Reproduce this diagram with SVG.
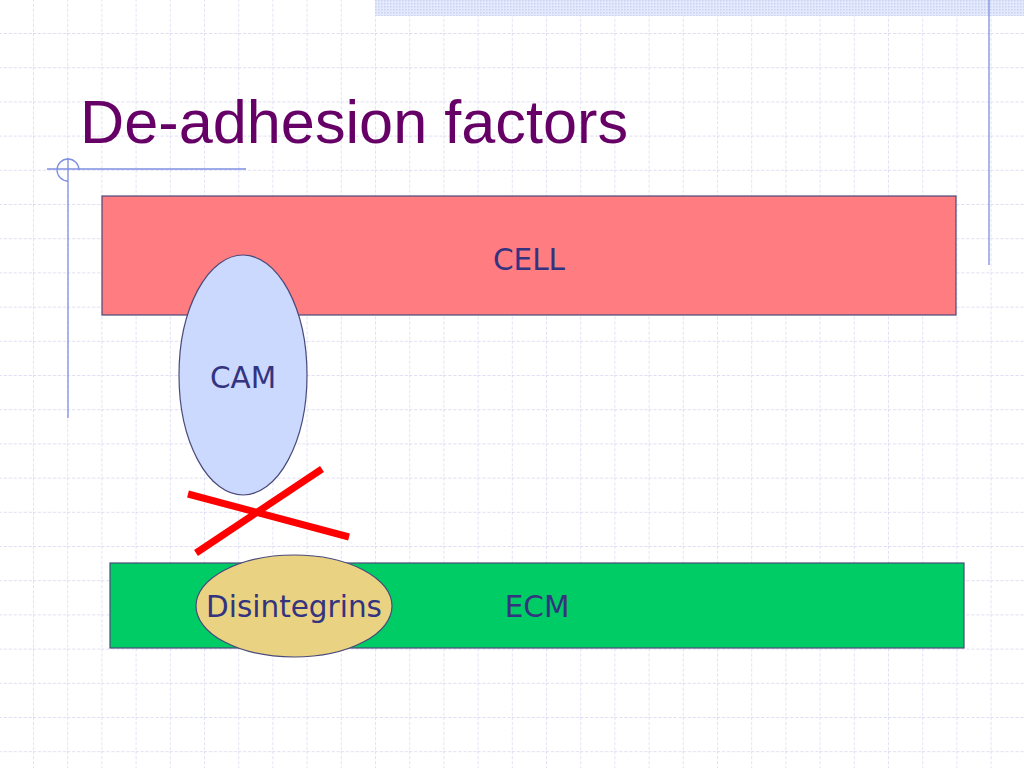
<svg xmlns="http://www.w3.org/2000/svg" width="1024" height="768" viewBox="0 0 1024 768">
<style>
.lbl{font-family:"DejaVu Sans","Liberation Sans",sans-serif;font-size:29.5px;fill:#333380;text-anchor:middle}
.deco{stroke:#7f8fe0;stroke-width:1.3;fill:none}
.shape{stroke:#4a4a7a;stroke-width:1.2}
.x{stroke:#ff0000;stroke-width:7;stroke-linecap:butt}
</style>
<defs>
<pattern id="grid" patternUnits="userSpaceOnUse" x="33" y="33" width="34.2" height="34.2">
<path d="M0 0H34.2M0 0V34.2" stroke="#d2d2f0" stroke-width="1.3" stroke-dasharray="3 2" fill="none"/>
</pattern>
<pattern id="dots" patternUnits="userSpaceOnUse" width="3" height="3">
<rect width="3" height="3" fill="#e4e9fb"/>
<rect width="1.5" height="1.5" fill="#c9d3f3"/>
</pattern>
</defs>
<rect width="1024" height="768" fill="#ffffff"/>
<rect width="1024" height="768" fill="url(#grid)"/>
<rect x="375" y="0" width="649" height="16" fill="url(#dots)"/>
<g id="decor">
<line class="deco" x1="989" y1="0" x2="989" y2="265"/>
<line class="deco" x1="47" y1="169" x2="246" y2="169"/>
<line class="deco" x1="68" y1="158" x2="68" y2="418"/>
<path class="deco" d="M79 170 A11 11 0 1 0 68 181"/>
</g>
<text id="title" x="80" y="143" font-family="Liberation Sans,Arial,sans-serif" font-size="62" fill="#660066" textLength="548" lengthAdjust="spacingAndGlyphs">De-adhesion factors</text>
<g id="cell">
<rect class="shape" x="102" y="196" width="854" height="119" fill="#ff7c80"/>
<text class="lbl" x="529" y="270">CELL</text>
</g>
<g id="ecm">
<rect class="shape" x="110" y="563" width="854" height="85" fill="#00cc66"/>
<text class="lbl" x="537" y="617">ECM</text>
</g>
<g id="cam">
<ellipse class="shape" cx="243" cy="375" rx="64" ry="120" fill="#ccd9ff"/>
<text class="lbl" x="243" y="388">CAM</text>
</g>
<g id="disintegrins">
<ellipse class="shape" cx="294" cy="606" rx="98" ry="51" fill="#e9d282"/>
<text class="lbl" x="294" y="617">Disintegrins</text>
</g>
<g id="connectors">
<line class="x" x1="188" y1="494" x2="349" y2="537"/>
<line class="x" x1="196" y1="553" x2="322" y2="469"/>
</g>
</svg>
